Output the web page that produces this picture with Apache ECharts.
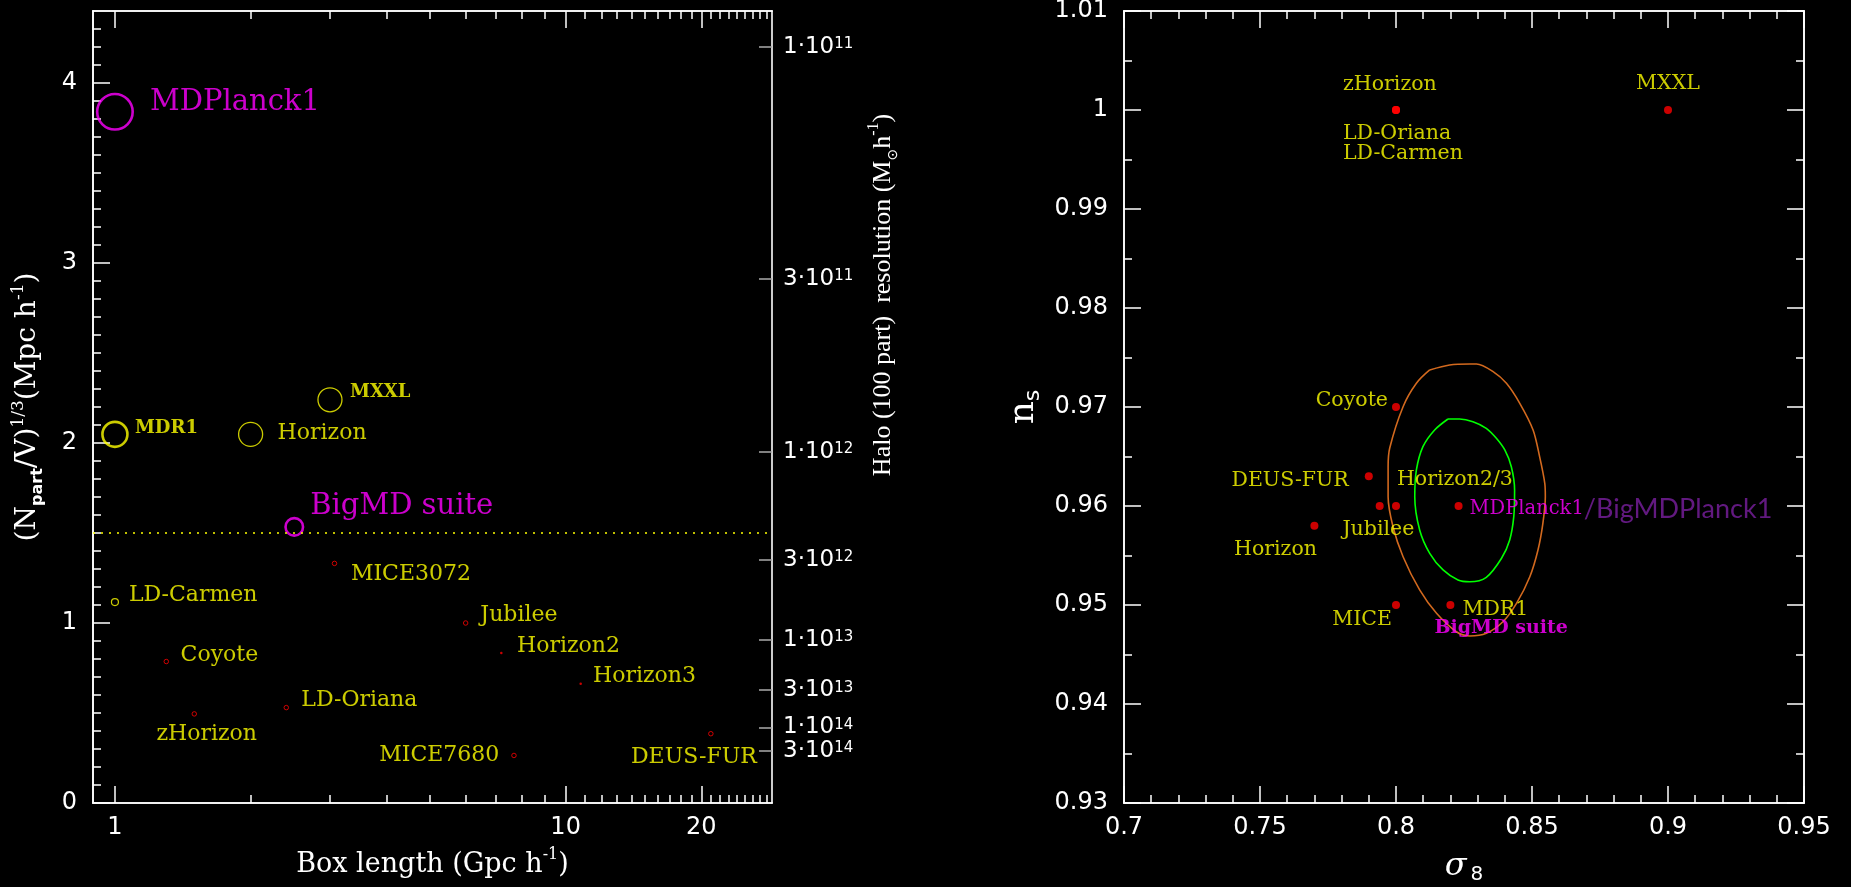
<!DOCTYPE html>
<html><head><meta charset="utf-8">
<script src="https://cdn.jsdelivr.net/npm/echarts@6/dist/echarts.min.js"></script>
<style>html,body{margin:0;padding:0;background:#000;}#chart{width:1851px;height:887px;}</style>
</head><body><div id="chart"></div>
<script>
// ================= DATA =================
// Left panel: simulations (box length in Gpc/h, (Npart/V)^(1/3) in (Mpc/h)^-1)
const simNames = ['MDPlanck1','MDR1','Horizon','MXXL','BigMD suite','MICE3072','LD-Carmen','Coyote','zHorizon','LD-Oriana','Jubilee','Horizon2','Horizon3','MICE7680','DEUS-FUR'];
const boxLength = [1.0, 1.0, 2.0, 3.0, 2.5, 3.07, 1.0, 1.3, 1.5, 2.4, 6.0, 7.2, 10.8, 7.68, 21.0];
const partDensity = [3.84, 2.048, 2.048, 2.24, 1.534, 1.331, 1.116, 0.786, 0.495, 0.53, 1.0, 0.833, 0.663, 0.264, 0.385];
const resolutionLine = 1.5;

// Left panel axes ticks
const boxTicksMajor = [1, 10, 20];
const boxTicksMinor = [2,3,4,5,6,7,8,9,11,12,13,14,15,16,17,18,19,21,22,23,24,25,26,27,28];
const densTicksMajor = [0, 1, 2, 3, 4];
// Right-hand axis of left panel: halo (100 particle) mass, tick position on density scale
const haloMass = [1e11, 3e11, 1e12, 3e12, 1e13, 3e13, 1e14, 3e14];
const haloTickPos = [4.20, 2.912, 1.95, 1.352, 0.905, 0.627, 0.42, 0.291];

// Right panel: cosmologies
const cosmoNames = ['zHorizon','LD-Oriana','LD-Carmen','MXXL','Coyote','DEUS-FUR','Horizon2/3','Jubilee','Horizon','MICE','MDR1','MDPlanck1','BigMD suite'];
const sigma8 = [0.8, 0.8, 0.8, 0.9, 0.8, 0.79, 0.794, 0.8, 0.77, 0.8, 0.82, 0.823, 0.823];
const nsVal  = [1.0, 1.0, 1.0, 1.0, 0.97, 0.963, 0.96, 0.96, 0.958, 0.95, 0.95, 0.96, 0.96];

// Planck contours (outer: orange, inner: green)
const outerS8 = [0.8124,0.8197,0.8271,0.8296,0.8357,0.8406,0.8455,0.8504,0.8528,0.8547,0.8549,0.8540,0.8522,0.8492,0.8443,0.8393,0.8332,0.8271,0.8222,0.8149,0.8087,0.8026,0.7989,0.7971,0.7971,0.7977,0.8026,0.8075];
const outerNs = [0.97374,0.97424,0.97434,0.97434,0.97357,0.97239,0.97037,0.96768,0.96498,0.96229,0.96094,0.95825,0.95556,0.95286,0.95017,0.94831,0.94714,0.94687,0.94730,0.94916,0.95152,0.95488,0.95791,0.96094,0.96397,0.96586,0.97003,0.97239];
const innerS8 = [0.8191,0.8234,0.8283,0.8332,0.8369,0.8400,0.8424,0.8436,0.8433,0.8418,0.8388,0.8332,0.8271,0.8228,0.8173,0.8124,0.8087,0.8069,0.8075,0.8099,0.8142];
const innerNs = [0.96879,0.96879,0.96852,0.96785,0.96684,0.96566,0.96397,0.96162,0.95892,0.95657,0.95472,0.95280,0.95235,0.95253,0.95354,0.95522,0.95758,0.96094,0.96364,0.96599,0.96768];

const s8TicksMajor = [0.7, 0.75, 0.8, 0.85, 0.9, 0.95];
const s8TicksMinor = [0.71,0.72,0.73,0.74,0.76,0.77,0.78,0.79,0.81,0.82,0.83,0.84,0.86,0.87,0.88,0.89,0.91,0.92,0.93,0.94];
const nsTicksMajor = [0.93, 0.94, 0.95, 0.96, 0.97, 0.98, 0.99, 1.0, 1.01];
const nsTicksMinor = [0.935, 0.945, 0.955, 0.965, 0.975, 0.985, 0.995, 1.005];

// ================= STYLES =================
const YEL = '#ffff00', MAG = '#ff00ff', RED = '#ff0000', WHITE = '#ffffff';
const SERIF = 'DejaVu Serif', SANS = 'DejaVu Sans';

const leftMarker = {
  'MDPlanck1':  {size: 35.5, color: MAG, bw: 2.6},
  'MDR1':       {size: 25,   color: YEL, bw: 2.6},
  'Horizon':    {size: 24,   color: YEL, bw: 1.3},
  'MXXL':       {size: 24,   color: YEL, bw: 1.3},
  'BigMD suite':{size: 17.5, color: MAG, bw: 2.6},
  'MICE3072':   {size: 4.5,  color: RED, bw: 1},
  'LD-Carmen':  {size: 7,    color: YEL, bw: 1.2},
  'Coyote':     {size: 4.5,  color: RED, bw: 1},
  'zHorizon':   {size: 4.5,  color: RED, bw: 1},
  'LD-Oriana':  {size: 4.5,  color: RED, bw: 1},
  'Jubilee':    {size: 4.5,  color: RED, bw: 1},
  'Horizon2':   {size: 2.5,  color: RED, bw: 0, fill: true},
  'Horizon3':   {size: 2.5,  color: RED, bw: 0, fill: true},
  'MICE7680':   {size: 4.5,  color: RED, bw: 1},
  'DEUS-FUR':   {size: 4.5,  color: RED, bw: 1}
};
const leftLabel = {
  'MDPlanck1':  {dx: 35,  dy: -9,   align: 'left',  color: MAG, fs: 29},
  'MDR1':       {dx: 20,  dy: -6,   align: 'left',  color: YEL, fs: 18, bold: true},
  'Horizon':    {dx: 27,  dy: -1.5, align: 'left',  color: YEL, fs: 22},
  'MXXL':       {dx: 20,  dy: -7,   align: 'left',  color: YEL, fs: 18, bold: true},
  'BigMD suite':{dx: 16,  dy: -20.6,align: 'left',  color: MAG, fs: 29},
  'MICE3072':   {dx: 16.4,dy: 11.3, align: 'left',  color: YEL, fs: 22},
  'LD-Carmen':  {dx: 14,  dy: -6.6, align: 'left',  color: YEL, fs: 22},
  'Coyote':     {dx: 14.3,dy: -6,   align: 'left',  color: YEL, fs: 22},
  'zHorizon':   {dx: 12.4,dy: 20,   align: 'center',color: YEL, fs: 22},
  'LD-Oriana':  {dx: 15,  dy: -7,   align: 'left',  color: YEL, fs: 22},
  'Jubilee':    {dx: 14.7,dy: -7.5, align: 'left',  color: YEL, fs: 22},
  'Horizon2':   {dx: 15.7,dy: -7,   align: 'left',  color: YEL, fs: 22},
  'Horizon3':   {dx: 12.3,dy: -7,   align: 'left',  color: YEL, fs: 22},
  'MICE7680':   {dx: -14.7,dy: 0,   align: 'right', color: YEL, fs: 22},
  'DEUS-FUR':   {dx: 46,  dy: 23.5, align: 'right', color: YEL, fs: 22}
};
const rightLabel = {
  'zHorizon':   {dx: -53,  dy: -25.5, align: 'left'},
  'LD-Oriana':  {dx: -53,  dy: 23.7,  align: 'left'},
  'LD-Carmen':  {dx: -53,  dy: 43.7,  align: 'left'},
  'MXXL':       {dx: 0,    dy: -26.7, align: 'center'},
  'Coyote':     {dx: -8,   dy: -6,    align: 'right'},
  'DEUS-FUR':   {dx: -20,  dy: 4,     align: 'right'},
  'Horizon2/3': {dx: 17.3, dy: -26,   align: 'left'},
  'Jubilee':    {dx: -53.6,dy: 24,    align: 'left'},
  'Horizon':    {dx: -80.4,dy: 23.4,  align: 'left'},
  'MICE':       {dx: -4,   dy: 14.7,  align: 'right'},
  'MDR1':       {dx: 12,   dy: 4.5,   align: 'left'},
  'MDPlanck1':  {dx: 11,   dy: 3,     align: 'left', rich: true},
  'BigMD suite':{dx: -24,  dy: 122,   align: 'left', magenta: true, hidden: true}
};

// ================= AXIS HELPERS =================
const LOGMIN = Math.log10(0.894), LOGMAX = Math.log10(28.7);
const lg = v => Math.log10(v);
function fmtNum(v) { return String(+v.toFixed(3)); }

function mkAxis(o) {
  const ax = {
    type: 'value', gridIndex: o.grid, position: o.pos, min: o.min, max: o.max,
    axisLine: {show: true, onZero: false, lineStyle: {color: WHITE, width: 1.6}},
    splitLine: {show: false},
    axisTick: {show: !!o.ticks, inside: true, length: o.len || 17, customValues: o.ticks || [],
               lineStyle: {color: o.tickColor || WHITE, width: 1.5}},
    axisLabel: {show: !!o.labels, customValues: o.labels || [], formatter: o.fmt, hideOverlap: false,
                showMinLabel: true, showMaxLabel: true,
                color: WHITE, fontFamily: SANS, fontSize: 24, margin: o.margin || 14, rich: o.rich},
    silent: true
  };
  if (o.name) {
    ax.name = o.name; ax.nameLocation = 'middle'; ax.nameGap = o.nameGap;
    ax.nameMoveOverlap = false;
    if (o.nameRotate !== undefined) ax.nameRotate = o.nameRotate;
    ax.nameTextStyle = o.nameStyle;
  }
  return ax;
}

const nameRich = (fs, fam) => ({
  t: {fontFamily: fam || SERIF, fontSize: fs, color: WHITE, lineHeight: fs + 8},
  s: {fontFamily: fam || SERIF, fontSize: Math.round(fs * 0.6), color: WHITE, verticalAlign: 'top', lineHeight: fs * 0.6},
  b: {fontFamily: SANS, fontWeight: 'bold', fontSize: Math.round(fs * 0.58), color: WHITE, verticalAlign: 'bottom', lineHeight: fs * 0.6},
  o: {fontFamily: SANS, fontSize: Math.round(fs * 0.55), color: WHITE, verticalAlign: 'bottom', lineHeight: fs * 0.6}
});

function haloFmt(v) {
  let idx = 0, best = Infinity;
  haloTickPos.forEach((p, i) => { const d = Math.abs(p - v); if (d < best) { best = d; idx = i; } });
  const m = haloMass[idx];
  const e = Math.floor(Math.log10(m) + 1e-9);
  const mant = Math.round(m / Math.pow(10, e));
  return '{m|' + mant + '·10}{e|' + e + '}';
}

const xAxes = [
  // left panel
  mkAxis({grid: 0, pos: 'bottom', min: LOGMIN, max: LOGMAX, ticks: boxTicksMajor.map(lg), labels: boxTicksMajor.map(lg),
          fmt: v => String(Math.round(Math.pow(10, v))), margin: 13,
          name: '{t|Box length (Gpc h}{s|-1}{t|)}', nameGap: 44, nameStyle: {rich: nameRich(27)}}),
  mkAxis({grid: 0, pos: 'bottom', min: LOGMIN, max: LOGMAX, ticks: boxTicksMinor.map(lg), len: 8}),
  mkAxis({grid: 0, pos: 'top', min: LOGMIN, max: LOGMAX, ticks: boxTicksMajor.map(lg)}),
  mkAxis({grid: 0, pos: 'top', min: LOGMIN, max: LOGMAX, ticks: boxTicksMinor.map(lg), len: 8}),
  // right panel
  mkAxis({grid: 1, pos: 'bottom', min: 0.7, max: 0.95, ticks: s8TicksMajor, labels: s8TicksMajor, fmt: fmtNum, margin: 13,
          name: '{g|σ}{s|8}', nameGap: 46,
          nameStyle: {rich: {g: {fontFamily: SERIF, fontStyle: 'italic', fontSize: 32, color: WHITE, lineHeight: 36},
                             s: {fontFamily: SANS, fontSize: 20, color: WHITE, verticalAlign: 'bottom', lineHeight: 20, padding: [0,0,0,4]}}}}),
  mkAxis({grid: 1, pos: 'bottom', min: 0.7, max: 0.95, ticks: s8TicksMinor, len: 8}),
  mkAxis({grid: 1, pos: 'top', min: 0.7, max: 0.95, ticks: s8TicksMajor}),
  mkAxis({grid: 1, pos: 'top', min: 0.7, max: 0.95, ticks: s8TicksMinor, len: 8})
];
const densMinor = [];
for (let i = 1; i < 44; i++) if (i % 10) densMinor.push(i / 10);
const yAxes = [
  // left panel
  mkAxis({grid: 0, pos: 'left', min: 0, max: 4.4, ticks: densTicksMajor, labels: densTicksMajor, fmt: v => String(v), margin: 16,
          name: '{t|(N}{b|part}{t|/V)}{s|1/3}{t|(Mpc h}{s|-1}{t|)}', nameGap: 47, nameRotate: 90, nameStyle: {rich: nameRich(28)}}),
  mkAxis({grid: 0, pos: 'left', min: 0, max: 4.4, ticks: densMinor, len: 8}),
  mkAxis({grid: 0, pos: 'right', min: 0, max: 4.4, ticks: haloTickPos, labels: haloTickPos, len: 13, tickColor: '#aaaaaa',
          fmt: haloFmt, margin: 11,
          rich: {m: {fontFamily: SANS, fontSize: 23, color: WHITE, lineHeight: 20},
                 e: {fontFamily: SANS, fontSize: 15, color: WHITE, verticalAlign: 'top', lineHeight: 14}},
          name: '{t|Halo (100 part)  resolution (M}{o|⊙}{t|h}{s|-1}{t|)}', nameGap: 94, nameRotate: 90,
          nameStyle: {rich: nameRich(26, 'Liberation Serif'), padding: [0, 0, 0, 224]}}),
  // right panel
  mkAxis({grid: 1, pos: 'left', min: 0.93, max: 1.01, ticks: nsTicksMajor, labels: nsTicksMajor, fmt: fmtNum, margin: 16,
          name: '{n|n}{s|s}', nameGap: 80, nameRotate: 90,
          nameStyle: {rich: {n: {fontFamily: SERIF, fontSize: 36, color: WHITE, lineHeight: 40},
                             s: {fontFamily: SANS, fontSize: 22, color: WHITE, verticalAlign: 'bottom', lineHeight: 22}}}}),
  mkAxis({grid: 1, pos: 'left', min: 0.93, max: 1.01, ticks: nsTicksMinor, len: 8}),
  mkAxis({grid: 1, pos: 'right', min: 0.93, max: 1.01, ticks: nsTicksMajor}),
  mkAxis({grid: 1, pos: 'right', min: 0.93, max: 1.01, ticks: nsTicksMinor, len: 8})
];

// ================= SERIES =================
const leftData = simNames.map((n, i) => {
  const mk = leftMarker[n], lb = leftLabel[n];
  return {
    name: n, value: [lg(boxLength[i]), partDensity[i]], symbolSize: mk.size,
    itemStyle: {color: mk.fill ? mk.color : 'rgba(0,0,0,0)', borderColor: mk.color, borderWidth: mk.bw},
    label: {show: true, formatter: n, position: 'inside', align: lb.align, verticalAlign: 'middle',
            offset: [lb.dx, lb.dy], color: lb.color, fontFamily: SERIF, fontSize: lb.fs,
            fontWeight: lb.bold ? 'bold' : 'normal'}
  };
});

const rightData = cosmoNames.map((n, i) => {
  const lb = rightLabel[n];
  const label = {show: true, formatter: n, position: 'inside', align: lb.align, verticalAlign: 'middle',
                 offset: [lb.dx, lb.dy], color: YEL, fontFamily: SERIF, fontSize: 20.5};
  if (lb.rich) {
    label.formatter = '{a|MDPlanck1}{b|/BigMDPlanck1}';
    label.rich = {a: {color: MAG, fontFamily: SERIF, fontSize: 19.5},
                  b: {color: '#7a1fa0', fontFamily: 'Lato', fontSize: 27}};
  }
  if (lb.magenta) { label.color = MAG; label.fontWeight = 'bold'; label.fontSize = 19; }
  return {
    name: n, value: [sigma8[i], nsVal[i]], symbolSize: lb.hidden ? 1 : 8,
    itemStyle: {color: lb.hidden ? 'rgba(0,0,0,0)' : RED},
    label
  };
});

const closeLoop = (xs, ys) => { const d = xs.map((x, i) => [x, ys[i]]); d.push(d[0]); return d; };

const option = {
  backgroundColor: '#000000',
  animation: false,
  grid: [
    {left: 93, top: 11, width: 679, height: 792, containLabel: false, outerBoundsMode: 'none'},
    {left: 1124, top: 11, width: 680, height: 792, containLabel: false, outerBoundsMode: 'none'}
  ],
  xAxis: xAxes,
  yAxis: yAxes,
  series: [
    {type: 'line', name: 'outer', xAxisIndex: 4, yAxisIndex: 3, data: closeLoop(outerS8, outerNs),
     symbol: 'none', smooth: 0.3, lineStyle: {color: '#d2691e', width: 1.6}, silent: true, z: 2},
    {type: 'line', name: 'inner', xAxisIndex: 4, yAxisIndex: 3, data: closeLoop(innerS8, innerNs),
     symbol: 'none', smooth: 0.3, lineStyle: {color: '#00ff00', width: 1.6}, silent: true, z: 2},
    {type: 'scatter', name: 'sims', xAxisIndex: 0, yAxisIndex: 0, data: leftData, clip: false, silent: true, z: 3,
     markLine: {silent: true, symbol: 'none', label: {show: false},
                lineStyle: {color: YEL, type: [2, 6], width: 1.6},
                data: [{yAxis: resolutionLine}]}},
    {type: 'scatter', name: 'cosmo', xAxisIndex: 4, yAxisIndex: 3, data: rightData, clip: false, silent: true, z: 4}
  ]
};

const chart = echarts.init(document.getElementById('chart'), null, {renderer: 'canvas'});
chart.setOption(option);
</script>
</body></html>
